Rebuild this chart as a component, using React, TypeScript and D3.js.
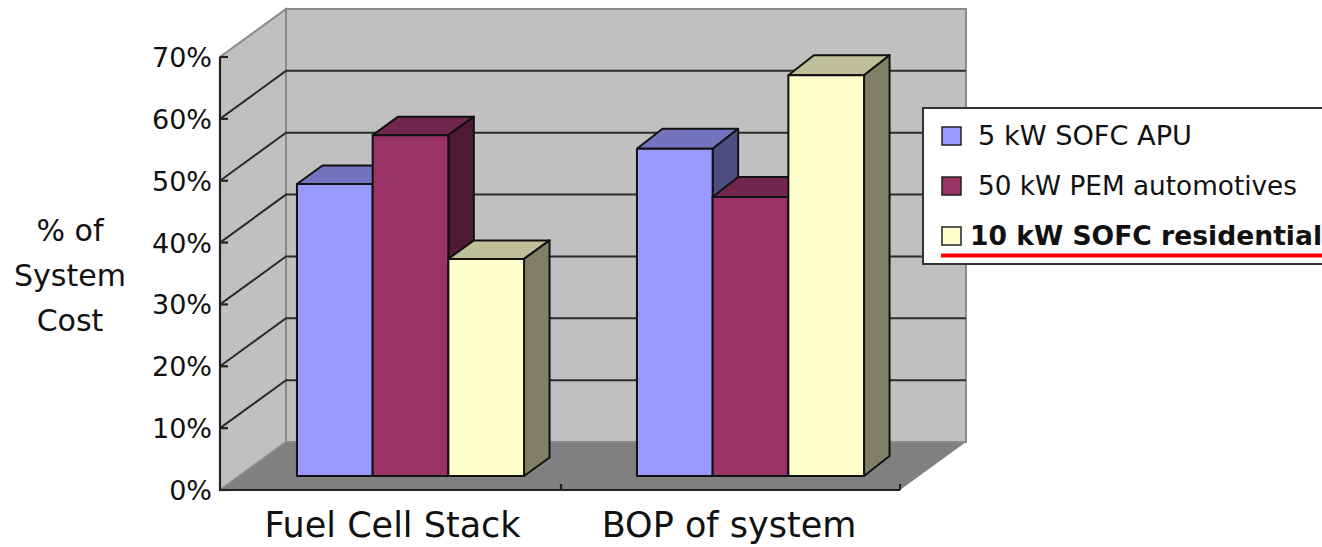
import { useEffect, useRef } from "react";
import * as d3 from "d3";

const categories = ["Fuel Cell Stack", "BOP of system"];
const seriesNames = ["5 kW SOFC APU", "50 kW PEM automotives", "10 kW SOFC residential"];
const apuValues = [47.2, 52.9];
const pemValues = [55.1, 45.1];
const residentialValues = [35.1, 64.8];
const yTicks = [0, 10, 20, 30, 40, 50, 60, 70];
const yTitle = ["% of", "System", "Cost"];

const frontColors = ["#9999ff", "#993366", "#ffffcc"];
const topColors = ["#7373bf", "#73264d", "#bfbf99"];
const sideColors = ["#4d4d80", "#4d1933", "#808066"];

const W = 1322;
const H = 547;
const font = "'DejaVu Sans', sans-serif";

export default function App() {
  const svgRef = useRef<SVGSVGElement>(null);

  useEffect(() => {
    if (!svgRef.current) return;
    const svg = d3.select(svgRef.current);
    svg.selectAll("*").remove();

    const x = d3.scaleBand<string>().domain(categories).range([220, 900]);
    const y = d3.scaleLinear().domain([0, 70]).range([490, 57]);

    // depth of the box, front plane to back wall
    const wallDx = 66;
    const wallDy = -48;
    const path = (pts: [number, number][]) => d3.line()(pts) + "Z";

    const walls = svg.append("g");
    walls.append("path")
      .attr("d", path([[x.range()[0], y(0)], [x.range()[1], y(0)], [x.range()[1] + wallDx, y(0) + wallDy], [x.range()[0] + wallDx, y(0) + wallDy]]))
      .attr("fill", "#808080");
    walls.append("path")
      .attr("d", path([[220, y(0)], [220, y(70)], [220 + wallDx, y(70) + wallDy], [220 + wallDx, y(0) + wallDy]]))
      .attr("fill", "#c0c0c0")
      .attr("stroke", "#8a8a8a")
      .attr("stroke-width", 2);
    walls.append("rect")
      .attr("x", 220 + wallDx)
      .attr("y", y(70) + wallDy)
      .attr("width", 680)
      .attr("height", y(0) - y(70))
      .attr("fill", "#c0c0c0")
      .attr("stroke", "#8a8a8a")
      .attr("stroke-width", 2);

    const grid = svg.append("g").attr("stroke", "#2b2b2b").attr("stroke-width", 2).attr("fill", "none");
    yTicks.slice(1, -1).forEach((t) => {
      grid.append("path").attr("d", d3.line()([[220, y(t)], [220 + wallDx, y(t) + wallDy], [900 + wallDx, y(t) + wallDy]]));
    });

    const allSeries = [apuValues, pemValues, residentialValues];
    const barW = 75.7;
    const baseDx = 20;
    const baseDy = -14;
    const barDx = 25.5;
    const bars = svg.append("g").attr("stroke", "#111").attr("stroke-width", 2).attr("stroke-linejoin", "round");
    categories.forEach((cat, c) => {
      const center = x(cat)! + x.bandwidth() / 2 + baseDx + 0.5;
      // the second group sits a little deeper in the original's perspective
      const barDy = c === 0 ? -18.5 : -20;
      allSeries.forEach((values, s) => {
        const l = center + (s - 1.5) * barW;
        const r = l + barW;
        const b = y(0) + baseDy;
        const t = y(values[c]) + baseDy;
        bars.append("path")
          .attr("d", path([[l, t], [r, t], [r + barDx, t + barDy], [l + barDx, t + barDy]]))
          .attr("fill", topColors[s]);
        bars.append("path")
          .attr("d", path([[r, t], [r + barDx, t + barDy], [r + barDx, b + barDy], [r, b]]))
          .attr("fill", sideColors[s]);
        bars.append("rect")
          .attr("x", l)
          .attr("y", t)
          .attr("width", barW)
          .attr("height", b - t)
          .attr("fill", frontColors[s]);
      });
    });

    // axes
    const axes = svg.append("g").attr("stroke", "#222").attr("stroke-width", 2.2).attr("fill", "none");
    axes.append("path").attr("d", d3.line()([[220, y(70)], [220, y(0)], [900, y(0)]]));
    yTicks.forEach((t) => {
      axes.append("path").attr("d", d3.line()([[220, y(t)], [228, y(t)]]));
    });
    [561, 900].forEach((tx) => {
      axes.append("path").attr("d", d3.line()([[tx, y(0)], [tx, y(0) - 6]]));
    });

    const label = svg.append("g").attr("font-family", font).attr("fill", "#111");
    label.selectAll("text.tick")
      .data(yTicks)
      .join("text")
      .attr("class", "tick")
      .attr("x", 212)
      .attr("y", (d) => y(d) + 10)
      .attr("text-anchor", "end")
      .attr("font-size", 27)
      .text((d) => d + "%");
    label.selectAll("text.cat")
      .data(categories)
      .join("text")
      .attr("class", "cat")
      .attr("x", (d) => x(d)! + x.bandwidth() / 2 + (d === categories[0] ? 2.5 : -1))
      .attr("y", 537)
      .attr("text-anchor", "middle")
      .attr("font-size", 35)
      .text((d) => d);
    label.selectAll("text.title")
      .data(yTitle)
      .join("text")
      .attr("class", "title")
      .attr("x", 70)
      .attr("y", (_, i) => 241 + i * 45)
      .attr("text-anchor", "middle")
      .attr("font-size", 30)
      .text((d) => d);

    // legend runs off the right edge
    const legend = svg.append("g");
    legend.append("rect")
      .attr("x", 923)
      .attr("y", 108)
      .attr("width", 420)
      .attr("height", 156)
      .attr("fill", "#fff")
      .attr("stroke", "#333")
      .attr("stroke-width", 2);
    const legendY = d3.scalePoint<string>().domain(seriesNames).range([136, 236]);
    const legendWidths = [214, 319, 352];
    seriesNames.forEach((name, i) => {
      const cy = legendY(name)!;
      legend.append("rect")
        .attr("x", 942)
        .attr("y", cy - 9)
        .attr("width", 19)
        .attr("height", 18)
        .attr("fill", frontColors[i])
        .attr("stroke", "#222")
        .attr("stroke-width", 1.5);
      legend.append("text")
        .attr("x", i === 2 ? 970 : 978)
        .attr("y", cy + 9)
        .attr("font-family", font)
        .attr("font-size", 26)
        .attr("font-weight", i === 2 ? 700 : 400)
        .attr("fill", "#111")
        .attr("textLength", legendWidths[i])
        .attr("lengthAdjust", "spacingAndGlyphs")
        .text(name);
    });
    legend.append("line")
      .attr("x1", 941)
      .attr("x2", W)
      .attr("y1", 255.5)
      .attr("y2", 255.5)
      .attr("stroke", "#f00")
      .attr("stroke-width", 4);
  }, []);

  return (
    <svg
      ref={svgRef}
      width={W}
      height={H}
      style={{ position: "fixed", left: 0, top: 0, background: "#fff" }}
    />
  );
}
